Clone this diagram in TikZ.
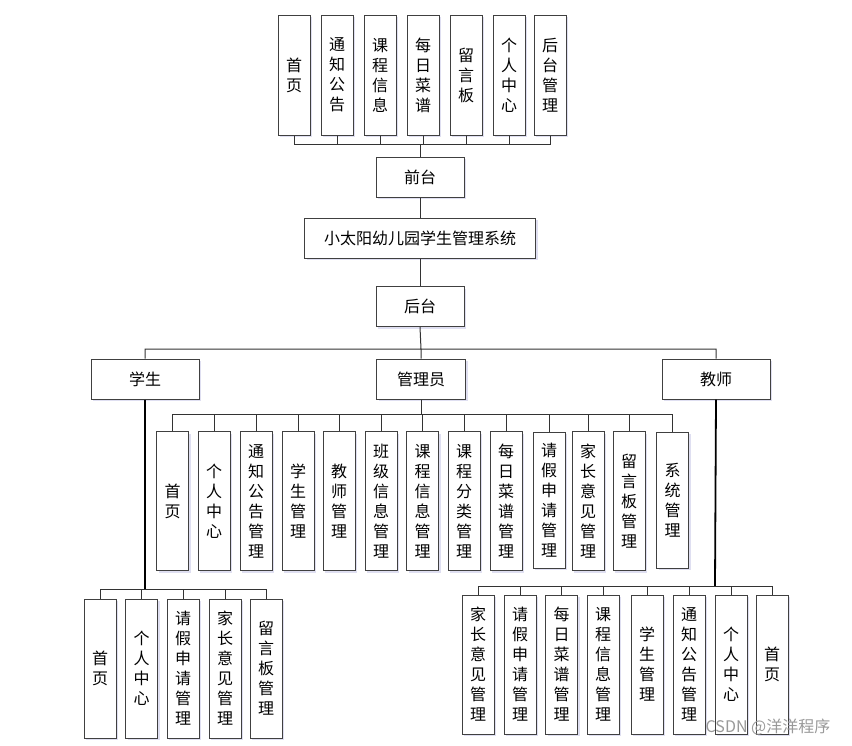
\documentclass[tikz,border=0pt]{standalone}
\usepackage{fontspec}
\newfontfamily\cjk{Noto Sans CJK SC}
\usepackage{tikz}
\usetikzlibrary{shadows}

\begin{document}
\begin{tikzpicture}[x=1pt, y=-1pt,
  box/.style   = {draw=black!75, line width=1pt, fill=white, align=center,
                  font=\cjk\fontsize{16}{20}\selectfont, inner sep=0pt,
                  drop shadow={shadow xshift=2pt, shadow yshift=-2pt,
                               fill=blue!40!gray, opacity=0.18}},
  vbox/.style  = {box, minimum width=32pt, minimum height=139pt},
  topbox/.style= {vbox, minimum height=120pt},
  hbox/.style  = {box, minimum height=40pt},
  conn/.style  = {draw=black!80, line width=1pt},
  trunk/.style = {draw=black, line width=1.8pt},
]
\useasboundingbox (0,0) rectangle (852,745);

% front end
\node[topbox] (f1) at (294,75) {首\\页};
\node[topbox] (f2) at (337,75) {通\\知\\公\\告};
\node[topbox] (f3) at (380,75) {课\\程\\信\\息};
\node[topbox] (f4) at (423,75) {每\\日\\菜\\谱};
\node[topbox] (f5) at (466,75) {留\\言\\板};
\node[topbox] (f6) at (509,75) {个\\人\\中\\心};
\node[topbox] (f7) at (550,75) {后\\台\\管\\理};

\node[hbox, minimum width=88pt] (qt) at (420,177) {前台};
\node[hbox, minimum width=231pt] (sys) at (420,238) {小太阳幼儿园学生管理系统};
\node[hbox, minimum width=88pt] (ht) at (420,306.5) {后台};

\coordinate (fbus) at (420,144);
\draw[conn] (qt.north) -- (fbus) (f1.south) |- (fbus) (f7.south) |- (fbus)
  (f2.south) -- (f2.south |- fbus) (f3.south) -- (f3.south |- fbus)
  (f4.south) -- (f4.south |- fbus) (f5.south) -- (f5.south |- fbus)
  (f6.south) -- (f6.south |- fbus);
\draw[conn] (qt) -- (sys);
\draw[conn] (sys) -- (ht);

% roles
\node[hbox, minimum width=108pt] (stu) at (145,379) {学生};
\node[hbox, minimum width=89pt] (adm) at (421,379) {管理员};
\node[hbox, minimum width=108pt] (tea) at (716,379) {教师};

\coordinate (rbus) at (421,349);
\draw[conn] (ht.south) -- (rbus) (stu.north) |- (rbus) (tea.north) |- (rbus)
  (adm.north) -- (adm.north |- rbus);

% admin
\node[vbox] (a1) at (172.5,501) {首\\页};
\node[vbox] (a2) at (214,501) {个\\人\\中\\心};
\node[vbox] (a3) at (256,501) {通\\知\\公\\告\\管\\理};
\node[vbox] (a4) at (298,501) {学\\生\\管\\理};
\node[vbox] (a5) at (339,501) {教\\师\\管\\理};
\node[vbox] (a6) at (381,501) {班\\级\\信\\息\\管\\理};
\node[vbox] (a7) at (422.5,501) {课\\程\\信\\息\\管\\理};
\node[vbox] (a8) at (464,501) {课\\程\\分\\类\\管\\理};
\node[vbox] (a9) at (506,501) {每\\日\\菜\\谱\\管\\理};
\node[vbox, minimum height=136pt] (a10) at (549,500) {请\\假\\申\\请\\管\\理};
\node[vbox] (a11) at (588,501) {家\\长\\意\\见\\管\\理};
\node[vbox] (a12) at (629,501) {留\\言\\板\\管\\理};
\node[vbox, minimum height=136pt] (a13) at (672.5,500) {系\\统\\管\\理};

\coordinate (abus) at (421,414);
\draw[conn] (adm.south) -- (abus) (a1.north) |- (abus) (a13.north) |- (abus)
  (a2.north) -- (a2.north |- abus) (a3.north) -- (a3.north |- abus)
  (a4.north) -- (a4.north |- abus) (a5.north) -- (a5.north |- abus)
  (a6.north) -- (a6.north |- abus) (a7.north) -- (a7.north |- abus)
  (a8.north) -- (a8.north |- abus) (a9.north) -- (a9.north |- abus)
  (a10.north) -- (a10.north |- abus) (a11.north) -- (a11.north |- abus)
  (a12.north) -- (a12.north |- abus);

% student
\node[vbox] (s1) at (100,668.5) {首\\页};
\node[vbox] (s2) at (141.5,668.5) {个\\人\\中\\心};
\node[vbox] (s3) at (183,668.5) {请\\假\\申\\请\\管\\理};
\node[vbox] (s4) at (225,668.5) {家\\长\\意\\见\\管\\理};
\node[vbox] (s5) at (266,668.5) {留\\言\\板\\管\\理};

\coordinate (sbus) at (145,589);
\draw[trunk] (stu.south) -- (sbus);
\draw[conn] (s1.north) |- (sbus) (s5.north) |- (sbus)
  (s2.north) -- (s2.north |- sbus) (s3.north) -- (s3.north |- sbus)
  (s4.north) -- (s4.north |- sbus);

% teacher
\node[vbox] (t1) at (478,664.5) {家\\长\\意\\见\\管\\理};
\node[vbox] (t2) at (520,664.5) {请\\假\\申\\请\\管\\理};
\node[vbox] (t3) at (561.5,664.5) {每\\日\\菜\\谱\\管\\理};
\node[vbox] (t4) at (603,664.5) {课\\程\\信\\息\\管\\理};
\node[vbox] (t5) at (647,664.5) {学\\生\\管\\理};
\node[vbox] (t6) at (689,664.5) {通\\知\\公\\告\\管\\理};
\node[vbox] (t7) at (731,664.5) {个\\人\\中\\心};
\node[vbox] (t8) at (772,664.5) {首\\页};

\coordinate (tbus) at (715,586);
\draw[trunk] (tea.south) -- (tbus);
\draw[conn] (t1.north) |- (tbus) (t8.north) |- (tbus)
  (t2.north) -- (t2.north |- tbus) (t3.north) -- (t3.north |- tbus)
  (t4.north) -- (t4.north |- tbus) (t5.north) -- (t5.north |- tbus)
  (t6.north) -- (t6.north |- tbus) (t7.north) -- (t7.north |- tbus);

\node[font=\cjk\fontsize{16}{18}\selectfont, text=black!40] (wm) at (768,727) {CSDN @洋洋程序};

\end{tikzpicture}
\end{document}
